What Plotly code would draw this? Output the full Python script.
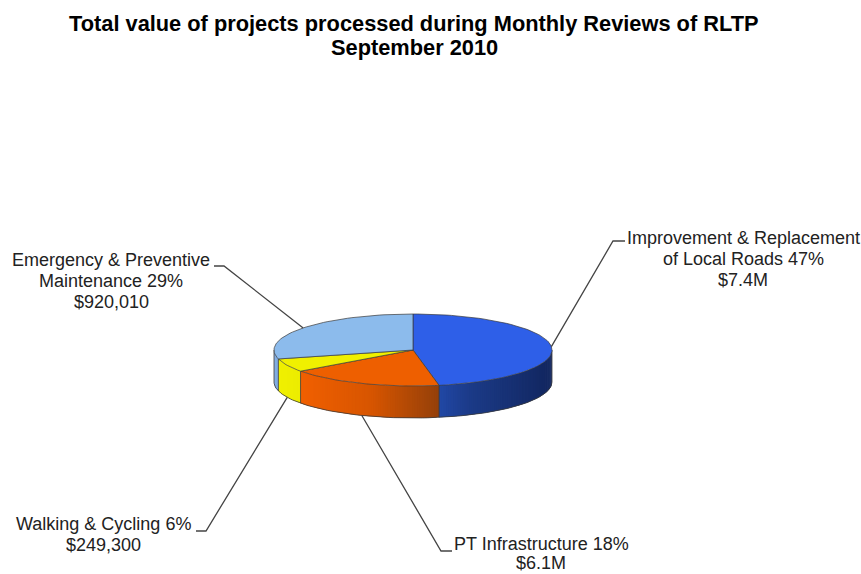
import math
import plotly.graph_objects as go

# ---- data ----
categories = ["Improvement & Replacement<br>of Local Roads", "PT Infrastructure", "Walking & Cycling",
              "Emergency & Preventive<br>Maintenance"]
shares = [47, 18, 6, 29]
amounts = ["$7.4M", "$6.1M", "$249,300", "$920,010"]
title_lines = ["Total value of projects processed during Monthly Reviews of RLTP", "September 2010"]

# ---- styling / layout ----
W, H = 861, 574
CX, CY, RX, RY, DEPTH = 413, 350, 139, 36, 32
top_colors = ["#2e5fe8", "#ee5f00", "#f0f000", "#8cbbec"]
# side gradient stops: (x pixel, rgb)
side_stops = [
    [(438, (33, 72, 165)), (470, (27, 58, 135)), (552, (18, 38, 95))],
    [(302, (240, 95, 0)), (370, (215, 85, 0)), (438, (148, 64, 10))],
    [(278, (240, 240, 0)), (302, (236, 236, 0))],
    [(274, (125, 170, 225)), (278, (125, 170, 225))],
]
label_first_line = [(743, 238), (541, 544), (103, 524), (111, 260)]
line_steps = [21, 19, 21, 21]
elbow = [((613, 241), (625, 241)), ((441, 551), (452, 551)), ((206, 531), (196, 531)), ((224, 266), (214, 266))]
OUT = "#3a3a3a"


def pt(deg, dy=0):
    a = math.radians(deg)
    return CX + RX * math.sin(a), CY - RY * math.cos(a) + dy


def grad(stops, x):
    if x <= stops[0][0]:
        return stops[0][1]
    for (x0, c0), (x1, c1) in zip(stops, stops[1:]):
        if x <= x1:
            t = (x - x0) / (x1 - x0)
            return tuple(round(a + (b - a) * t) for a, b in zip(c0, c1))
    return stops[-1][1]


fig = go.Figure()


def poly(xs, ys, fill=None, line=None, width=1, closed=True):
    fig.add_trace(go.Scatter(
        x=xs, y=ys, mode="lines", fill="toself" if closed and fill else "none",
        fillcolor=fill, line=dict(color=line or fill, width=width),
        hoverinfo="skip", showlegend=False))


# slice angles, clockwise from 12 o'clock
total = sum(shares)
edges = [0]
for s in shares:
    edges.append(edges[-1] + s / total * 360)

# side wall, drawn in small overlapping steps for the gradient
for i in range(len(shares)):
    a0, a1 = max(edges[i], 90), min(edges[i + 1], 270)
    if a1 <= a0:
        continue
    n = max(1, int((a1 - a0) / 1.0))
    for k in range(n):
        u0 = a0 + (a1 - a0) * k / n
        u1 = a0 + (a1 - a0) * min(k + 2, n) / n
        p0, p1 = pt(u0), pt(u1)
        r, g, b = grad(side_stops[i], (p0[0] + p1[0]) / 2)
        col = f"rgb({r},{g},{b})"
        poly([p0[0], p1[0], p1[0], p0[0], p0[0]],
             [p0[1], p1[1], p1[1] + DEPTH, p0[1] + DEPTH, p0[1]], fill=col, width=0)

# side outlines
arc = [90 + k * 2 for k in range(91)]
poly([pt(a, DEPTH)[0] for a in arc], [pt(a, DEPTH)[1] for a in arc], line=OUT, width=0.8, closed=False)
for a in [90, edges[1], edges[2], edges[3], 270]:
    p = pt(a)
    poly([p[0], p[0]], [p[1], p[1] + DEPTH], line=OUT, width=0.8, closed=False)

# top face
for i in range(len(shares)):
    n = max(2, int((edges[i + 1] - edges[i]) / 2))
    pts = [pt(edges[i] + (edges[i + 1] - edges[i]) * k / n) for k in range(n + 1)]
    xs = [CX] + [p[0] for p in pts] + [CX]
    ys = [CY] + [p[1] for p in pts] + [CY]
    poly(xs, ys, fill=top_colors[i], line=OUT, width=0.7)

# leader lines, starting from each slice's mid angle
for i in range(len(shares)):
    mid = (edges[i] + edges[i + 1]) / 2
    s = pt(mid, DEPTH if 90 < mid < 270 else 0)
    (ex, ey), (fx, fy) = elbow[i]
    poly([s[0], ex, fx], [s[1], ey, fy], line="#444444", width=1.3, closed=False)

# labels
annotations = []
for i, c in enumerate(categories):
    lines = f"{c} {shares[i]}%<br>{amounts[i]}".split("<br>")
    for j, txt in enumerate(lines):
        annotations.append(dict(
            x=label_first_line[i][0], y=label_first_line[i][1] + j * line_steps[i],
            xref="x", yref="y", showarrow=False, text=txt, xanchor="center", yanchor="middle",
            font=dict(family="Liberation Sans", size=18, color="#222222")))
for j, txt in enumerate(title_lines):
    annotations.append(dict(
        x=414, y=23 + j * 24, xref="x", yref="y", showarrow=False, text=txt,
        xanchor="center", yanchor="middle",
        font=dict(family="Liberation Sans", size=21.8, color="#000000", weight="bold")))

fig.update_layout(
    width=W, height=H, margin=dict(l=0, r=0, t=0, b=0), autosize=False,
    paper_bgcolor="white", plot_bgcolor="white", showlegend=False, annotations=annotations,
    xaxis=dict(range=[0, W], visible=False, fixedrange=True),
    yaxis=dict(range=[H, 0], visible=False, fixedrange=True))
fig.write_html("out.html", config={"displayModeBar": False},
               post_script="document.body.style.margin='0';document.body.style.overflow='hidden';")
